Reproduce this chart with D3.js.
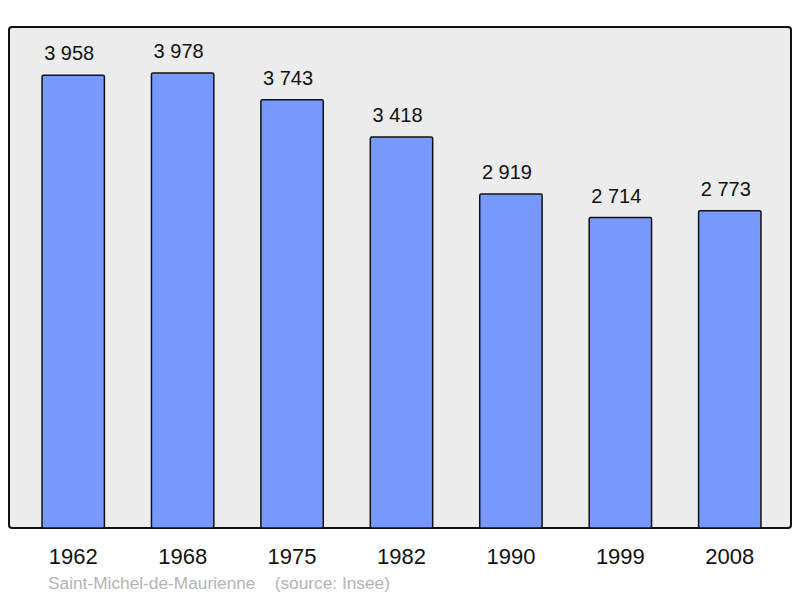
<!DOCTYPE html>
<html>
<head>
<meta charset="utf-8">
<script src="https://cdn.jsdelivr.net/npm/d3@7"></script>
<style>
  html, body { margin: 0; padding: 0; background: #fff; }
  svg text { font-family: "Liberation Sans", Arial, sans-serif; }
</style>
</head>
<body>
<div id="chart"></div>
<script>
// population by census year
var years = ["1962", "1968", "1975", "1982", "1990", "1999", "2008"];
var population = [3958, 3978, 3743, 3418, 2919, 2714, 2773];
var sourceLabel = "Saint-Michel-de-Maurienne    (source: Insee)";

var width = 800, height = 598;
var frame = {left: 9, top: 27, right: 791, bottom: 528};

var svg = d3.select("#chart").append("svg")
    .attr("width", width)
    .attr("height", height);

// background panel
svg.append("rect")
    .attr("x", frame.left)
    .attr("y", frame.top)
    .attr("width", frame.right - frame.left)
    .attr("height", frame.bottom - frame.top)
    .attr("rx", 3)
    .attr("fill", "#ececec")
    .attr("stroke", "#111")
    .attr("stroke-width", 2);

var x = d3.scaleBand()
    .domain(years)
    .range([18.5, 784.5])
    .paddingInner(0.43)
    .paddingOuter(0.215);

var y = d3.scaleLinear()
    .domain([0, 4380])
    .range([frame.bottom, frame.top]);

var data = years.map(function(yr, i) { return {year: yr, value: population[i]}; });

svg.selectAll(".bar")
    .data(data)
    .enter().append("rect")
    .attr("class", "bar")
    .attr("x", function(d) { return x(d.year); })
    .attr("y", function(d) { return y(d.value); })
    .attr("width", x.bandwidth())
    .attr("height", function(d) { return y(0) - y(d.value); })
    .attr("rx", 1.5)
    .attr("fill", "#7799ff")
    .attr("stroke", "#111")
    .attr("stroke-width", 1.5);

var fmt = function(v) { return d3.format(",")(v).replace(",", " "); };

svg.selectAll(".value-label")
    .data(data)
    .enter().append("text")
    .attr("class", "value-label")
    .attr("x", function(d) { return x(d.year) + x.bandwidth() / 2 - 4; })
    .attr("y", function(d) { return y(d.value) - 15; })
    .attr("text-anchor", "middle")
    .style("font-size", "20px")
    .attr("fill", "#111")
    .text(function(d) { return fmt(d.value); });

// year axis (no line, labels only)
var xAxis = svg.append("g")
    .attr("transform", "translate(0," + frame.bottom + ")")
    .call(d3.axisBottom(x).tickSize(0).tickPadding(20));
xAxis.select(".domain").remove();
xAxis.selectAll("text")
    .style("font-family", "'Liberation Sans', Arial, sans-serif")
    .style("font-size", "22px")
    .attr("fill", "#111");

svg.append("text")
    .attr("x", 48)
    .attr("y", 589)
    .style("font-size", "17.3px")
    .style("white-space", "pre")
    .attr("xml:space", "preserve")
    .attr("fill", "#b4b4b4")
    .text(sourceLabel);
</script>
</body>
</html>
